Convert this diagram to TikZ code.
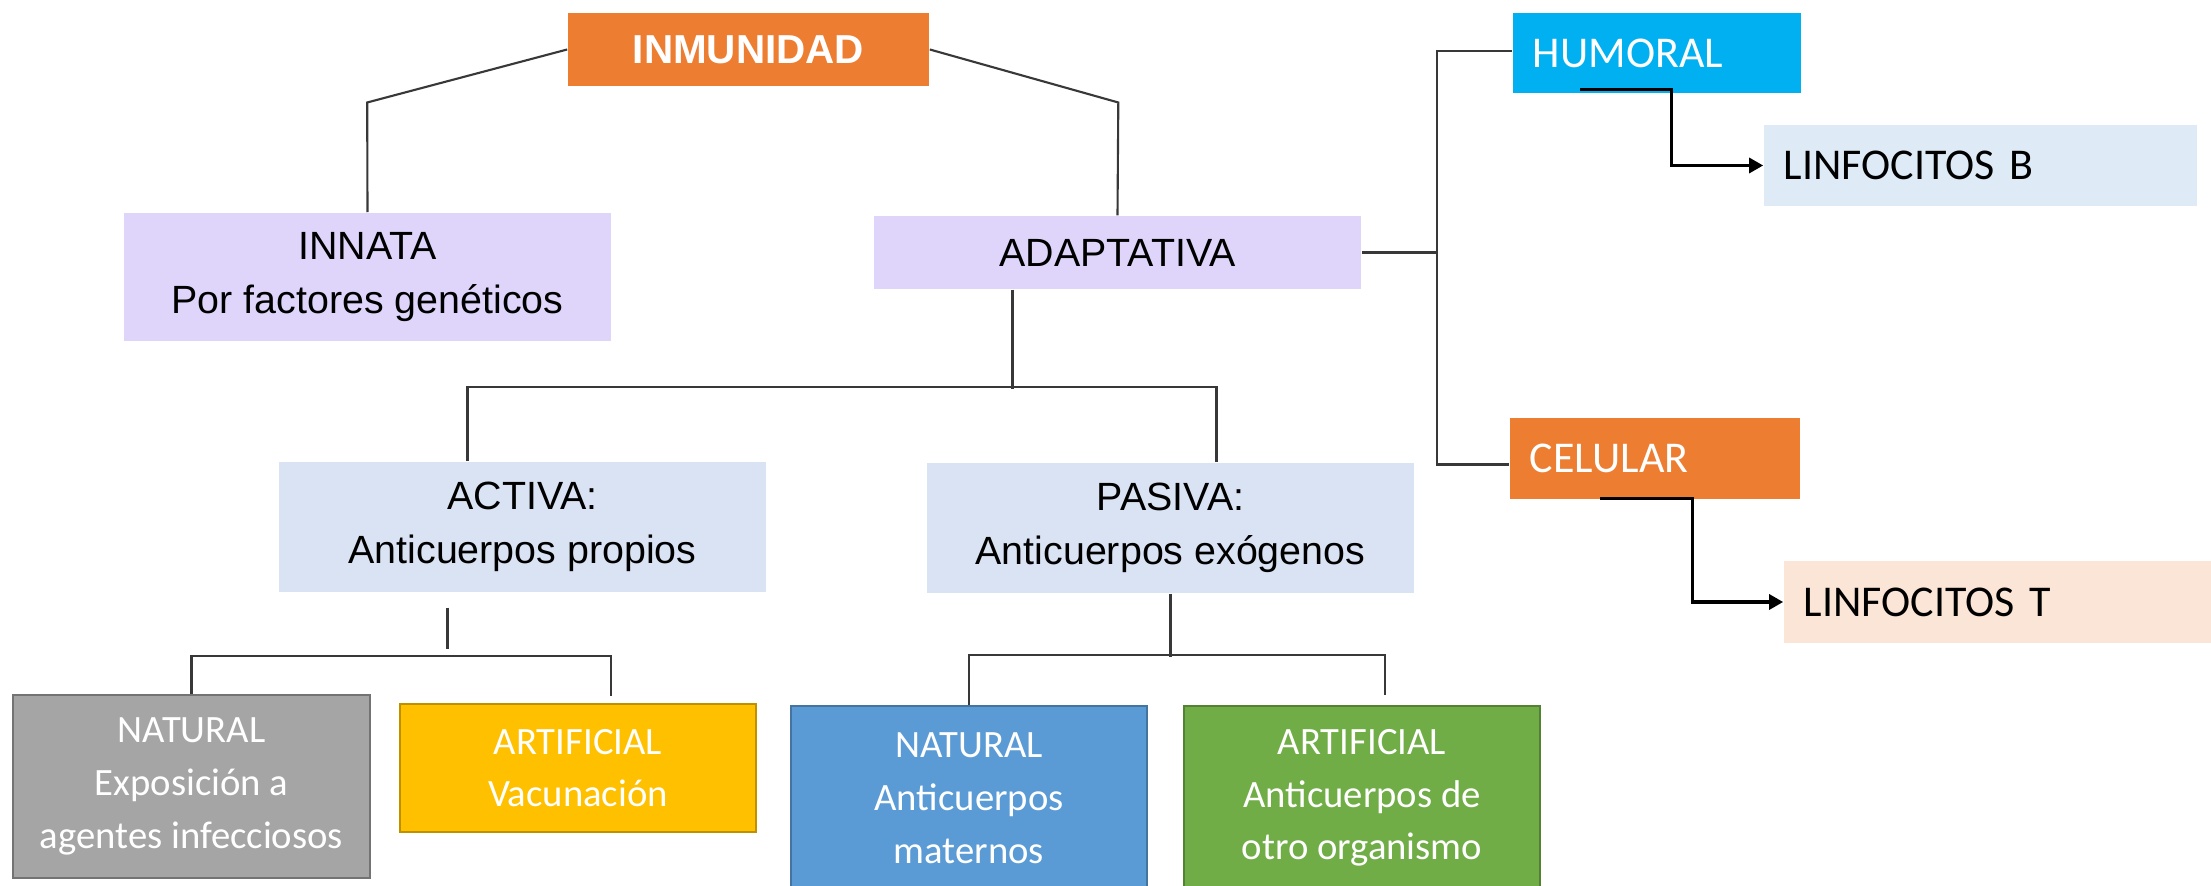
\documentclass[tikz,border=0pt]{standalone}
\usepackage{fontspec}
\setmainfont{Liberation Sans}
\newfontfamily\calibri{Carlito}
\usetikzlibrary{arrows.meta,calc}
\definecolor{OrangeClr}{HTML}{ED7D31}
\definecolor{LilacClr}{HTML}{DFD5FB}
\definecolor{PaleBlueClr}{HTML}{DAE3F3}
\definecolor{GreyClr}{HTML}{A5A5A5}
\definecolor{GoldClr}{HTML}{FFC000}
\definecolor{BlueClr}{HTML}{5B9BD5}
\definecolor{GreenClr}{HTML}{70AD47}
\definecolor{CyanClr}{HTML}{00B0F0}
\definecolor{IceClr}{HTML}{DEEBF7}
\definecolor{PeachClr}{HTML}{FBE5D6}
\definecolor{LineClr}{HTML}{383838}

\begin{document}
\begin{tikzpicture}[x=0.01cm,y=-0.01cm,
  box/.style={rectangle,inner sep=0pt,align=center,font=\fontsize{11.2}{15.2}\selectfont},
  tag/.style={rectangle,inner xsep=0.2cm,inner ysep=0pt,align=left,font=\calibri\fontsize{12.5}{15}\selectfont},
  leaf/.style={rectangle,inner sep=0pt,align=center,text=white,line width=0.45pt,font=\calibri\fontsize{11}{15}\selectfont},
  conn/.style={line width=0.6pt,color=LineClr},
  arr/.style={line width=0.9pt,-{Triangle[length=1.4mm,width=1.5mm]}}]
\clip (0,0) rectangle (2211,886);

% top level
\node[box,fill=OrangeClr,text=white,minimum width=3.61cm,minimum height=0.73cm,font=\bfseries\fontsize{11.5}{14}\selectfont] (inm) at (748.5,49.5) {INMUNIDAD};
\node[box,fill=LilacClr,minimum width=4.87cm,minimum height=1.28cm] (innata) at (367.5,277) {INNATA\\Por factores genéticos};
\node[box,fill=LilacClr,minimum width=4.87cm,minimum height=0.73cm] (adapt) at (1117.5,252.5) {ADAPTATIVA};

% activa / pasiva
\node[box,fill=PaleBlueClr,minimum width=4.87cm,minimum height=1.30cm] (activa) at (522.5,527) {ACTIVA:\\Anticuerpos propios};
\node[box,fill=PaleBlueClr,minimum width=4.87cm,minimum height=1.30cm] (pasiva) at (1170.5,528) {PASIVA:\\Anticuerpos exógenos};

% leaves
\node[leaf,fill=GreyClr,draw=GreyClr!70!black,minimum width=3.57cm,minimum height=1.83cm] (natA) at (191.5,786.5) {NATURAL\\Exposición a\\agentes infecciosos};
\node[leaf,fill=GoldClr,draw=GoldClr!75!black,minimum width=3.56cm,minimum height=1.28cm] (artA) at (578,768) {ARTIFICIAL\\Vacunación};
\node[leaf,fill=BlueClr,draw=BlueClr!75!black,minimum width=3.56cm,minimum height=1.84cm] (natP) at (969,798) {NATURAL\\Anticuerpos\\maternos};
\node[leaf,fill=GreenClr,draw=GreenClr!75!black,minimum width=3.56cm,minimum height=1.84cm] (artP) at (1362,798) {ARTIFICIAL\\Anticuerpos de\\otro organismo};

% right branch
\node[tag,fill=CyanClr,text=white,text width=2.48cm,minimum height=0.80cm] (hum) at (1657,53) {HUMORAL};
\node[tag,fill=OrangeClr,text=white,text width=2.50cm,minimum height=0.81cm] (cel) at (1655,458.5) {CELULAR};
\node[tag,fill=IceClr,text width=3.93cm,minimum height=0.81cm] (linfB) at (1980.5,165.5) {LINFOCITOS B};
\node[tag,fill=PeachClr,text width=4.06cm,minimum height=0.82cm] (linfT) at (2007,602) {LINFOCITOS T};

% connectors
\draw[conn] (inm.west) -- ++(-200,53) -- (innata.north);
\draw[conn] (inm.east) -- ++(188.5,53) -- (adapt.north);
\draw[conn] ($(adapt.south)+(-105,0)$) -- ++(0,99);
\draw[conn] ($(activa.north)+(-55,0)$) |- ($(pasiva.north)+(46,-75)$) -- ($(pasiva.north)+(46,0)$);
\draw[conn] ($(activa.south)+(-75,15)$) -- ++(0,41);
\draw[conn] (natA.north) |- ($(artA.north)+(33,-47)$) -- ++(0,40);
\draw[conn] (pasiva.south) -- ++(0,63);
\draw[conn] (natP.north) |- ($(artP.north)+(23,-50)$) -- ++(0,40);
\draw[conn] (adapt.east) -- ++(75,0) coordinate (jR);
\draw[conn] ($(hum.west)+(0,-2)$) -| (jR) |- ($(cel.west)+(0,6)$);

\draw[arr] ($(hum.south west)+(68,-4)$) -| ($(linfB.west)+(-92,0)$) -- (linfB.west);
\draw[arr] ($(cel.south west)+(91,-1)$) -| ($(linfT.west)+(-91,0)$) -- (linfT.west);
\end{tikzpicture}
\end{document}
